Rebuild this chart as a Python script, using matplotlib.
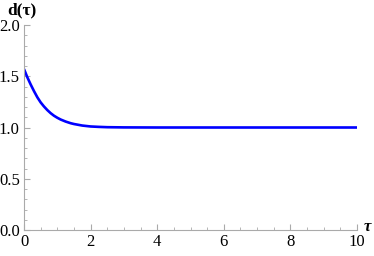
import matplotlib
matplotlib.use("Agg")
import matplotlib.pyplot as plt
from matplotlib.ticker import MultipleLocator

tau = [0.0, 0.1, 0.2, 0.3, 0.4, 0.5, 0.6, 0.7, 0.8, 0.9, 1.0, 1.1, 1.25, 1.4, 1.5, 1.75, 2.0, 2.25, 2.5, 3.0, 4.0, 5.0, 6.0, 7.0, 8.0, 9.0, 10.0]
d = [1.57, 1.49, 1.42, 1.355, 1.295, 1.245, 1.205, 1.17, 1.14, 1.115, 1.095, 1.078, 1.058, 1.042, 1.034, 1.019, 1.010, 1.006, 1.003, 1.001, 1.0, 1.0, 1.0, 1.0, 1.0, 1.0, 1.0]
xticks = [0, 2, 4, 6, 8, 10]
yticks = [0.0, 0.5, 1.0, 1.5, 2.0]

plt.rcParams['font.family'] = 'serif'
plt.rcParams['font.serif'] = ['Liberation Serif', 'DejaVu Serif']
fig = plt.figure(figsize=(3.74, 2.56), dpi=100)
ax = fig.add_axes([24/374, 26/256, (357-24)/374, (230-25)/256])
ax.plot(tau, d, color=(0, 0, 1), lw=1.9, solid_capstyle='butt')
ax.set_xlim(0, 10)
ax.set_ylim(0, 2)
ax.set_xticks(xticks)
ax.set_xticklabels([str(v) for v in xticks])
ax.set_yticks(yticks)
ax.set_yticklabels([f"{v:.1f}" for v in yticks])
ax.xaxis.set_minor_locator(MultipleLocator(0.5))
ax.yaxis.set_minor_locator(MultipleLocator(0.1))
for s in ['top', 'right']:
    ax.spines[s].set_visible(False)
for s in ['left', 'bottom']:
    ax.spines[s].set_color('#aaaaaa')
    ax.spines[s].set_linewidth(0.8)
ax.tick_params(which='major', direction='in', length=4, color='#aaaaaa', width=0.8, labelsize=12, pad=3)
ax.tick_params(which='minor', direction='in', length=2, color='#aaaaaa', width=0.6)
ax.patch.set_alpha(0)
fig.text(7/374, 1 - 10/256, 'd(τ)', fontsize=12.5, fontweight='bold', va='center', ha='left')
fig.text(364/374, 1 - 227/256, 'τ', fontsize=12, fontweight='bold', fontstyle='italic', va='center', ha='left')
fig.savefig('out.png', dpi=100)
